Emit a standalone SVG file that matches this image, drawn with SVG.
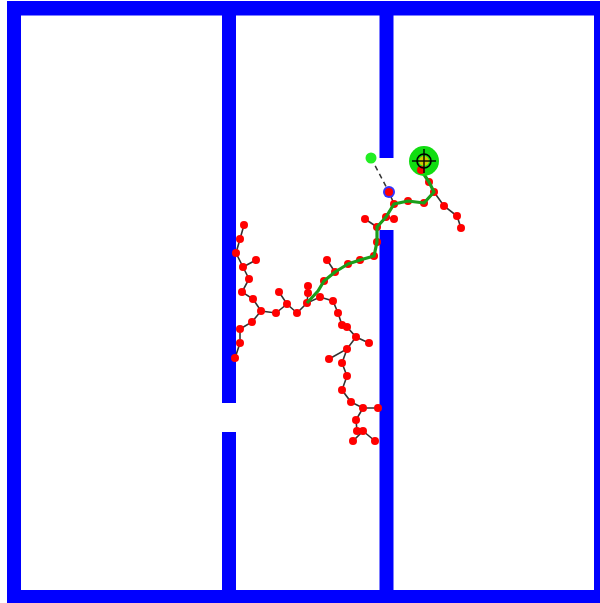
<svg xmlns="http://www.w3.org/2000/svg" width="600" height="603" viewBox="0 0 600 603">
<style>
.wall{fill:#0000ff}
.e{stroke:#333;stroke-width:1.6;fill:none}
.n{fill:#ff0000}
.path{stroke:#1a9e1a;stroke-width:3.2;fill:none;stroke-linejoin:round}
</style>
<rect width="600" height="603" fill="#fff"/>
<g id="walls">
<rect class="wall" x="7" y="1" width="593" height="14.5"/>
<rect class="wall" x="7" y="1" width="14" height="602"/>
<rect class="wall" x="7" y="590" width="593" height="13"/>
<rect class="wall" x="594" y="1" width="6" height="602"/>
<rect class="wall" x="222" y="10" width="14" height="393"/>
<rect class="wall" x="222" y="432" width="14" height="160"/>
<rect class="wall" x="379.5" y="10" width="14" height="148"/>
<rect class="wall" x="379.5" y="230" width="14" height="362"/>
</g>
<g id="connectors">
<polyline class="e" points="307,303 320,297 333,301 338,313 342,325 347,327 356,337 369,343"/>
<polyline class="e" points="356,337 347,349 329,359"/>
<polyline class="e" points="347,349 342,363 347,376 342,390 351,402 363,408 378,408"/>
<polyline class="e" points="363,408 356,420 357,431 363,431 353,441"/>
<polyline class="e" points="363,431 375,441"/>
<polyline class="e" points="307,303 297,313 287,304 279,292"/>
<polyline class="e" points="287,304 276,313 261,311 253,299 242,292 249,279 243,267 236,253 240,239 244,225"/>
<polyline class="e" points="243,267 256,260"/>
<polyline class="e" points="261,311 252,322 240,329 240,343 235,358"/>
<polyline class="e" points="307,303 308,293 308,286"/>
<polyline class="e" points="335,272 327,260"/>
<polyline class="e" points="377,227 365,219"/>
<polyline class="e" points="386,217 394,219"/>
<polyline class="e" points="434,192 444,206 457,216 461,228"/>
<polyline class="e" points="389,192 394,204"/>
<line x1="371" y1="158" x2="389" y2="192" stroke="#333" stroke-width="1.5" stroke-dasharray="5,4"/>
</g>
<g id="nodes">
<g class="n">
<circle cx="307" cy="303" r="4"/><circle cx="320" cy="297" r="4"/><circle cx="333" cy="301" r="4"/>
<circle cx="338" cy="313" r="4"/><circle cx="342" cy="325" r="4"/><circle cx="347" cy="327" r="4"/>
<circle cx="356" cy="337" r="4"/><circle cx="369" cy="343" r="4"/><circle cx="347" cy="349" r="4"/>
<circle cx="329" cy="359" r="4"/><circle cx="342" cy="363" r="4"/><circle cx="347" cy="376" r="4"/>
<circle cx="342" cy="390" r="4"/><circle cx="351" cy="402" r="4"/><circle cx="363" cy="408" r="4"/>
<circle cx="378" cy="408" r="4"/><circle cx="356" cy="420" r="4"/><circle cx="357" cy="431" r="4"/>
<circle cx="363" cy="431" r="4"/><circle cx="353" cy="441" r="4"/><circle cx="375" cy="441" r="4"/>
<circle cx="297" cy="313" r="4"/><circle cx="287" cy="304" r="4"/><circle cx="279" cy="292" r="4"/>
<circle cx="276" cy="313" r="4"/><circle cx="261" cy="311" r="4"/><circle cx="253" cy="299" r="4"/>
<circle cx="242" cy="292" r="4"/><circle cx="249" cy="279" r="4"/><circle cx="243" cy="267" r="4"/>
<circle cx="236" cy="253" r="4"/><circle cx="240" cy="239" r="4"/><circle cx="244" cy="225" r="4"/>
<circle cx="256" cy="260" r="4"/><circle cx="252" cy="322" r="4"/><circle cx="240" cy="329" r="4"/>
<circle cx="240" cy="343" r="4"/><circle cx="235" cy="358" r="4"/><circle cx="308" cy="293" r="4"/>
<circle cx="308" cy="286" r="4"/><circle cx="324" cy="281" r="4"/><circle cx="335" cy="272" r="4"/>
<circle cx="327" cy="260" r="4"/><circle cx="348" cy="264" r="4"/><circle cx="360" cy="260" r="4"/>
<circle cx="374" cy="256" r="4"/><circle cx="377" cy="242" r="4"/><circle cx="377" cy="227" r="4"/>
<circle cx="365" cy="219" r="4"/><circle cx="386" cy="217" r="4"/><circle cx="394" cy="219" r="4"/>
<circle cx="394" cy="204" r="4"/><circle cx="408" cy="201" r="4"/><circle cx="424" cy="203" r="4"/>
<circle cx="434" cy="192" r="4"/><circle cx="429" cy="182" r="4"/><circle cx="444" cy="206" r="4"/>
<circle cx="457" cy="216" r="4"/><circle cx="461" cy="228" r="4"/>
</g>
</g>
<g id="solution"><polyline class="path" points="307,303 318,291 324,281 335,272 348,264 360,260 374,256 377,242 377,227 386,217 394,204 408,201 424,203 434,192 429,182 421,170 424,161"/></g>
<g id="start"><circle cx="371" cy="158" r="5.5" fill="#22ee22"/></g>
<g id="nearest"><circle cx="389" cy="192" r="6" fill="#3333ff"/><circle cx="389" cy="192" r="4" fill="#ff0000"/></g>
<g id="goal">
<circle cx="424" cy="161" r="15" fill="#11dd11"/>
<circle cx="421" cy="170" r="4" fill="#ff0000"/>
<circle cx="424" cy="161" r="5" fill="#cccc00"/>
<circle cx="424" cy="161" r="7" fill="none" stroke="#000" stroke-width="1.6"/>
<line x1="412" y1="161" x2="436" y2="161" stroke="#000" stroke-width="1.4"/>
<line x1="424" y1="149" x2="424" y2="173" stroke="#000" stroke-width="1.4"/>
</g>
</svg>
